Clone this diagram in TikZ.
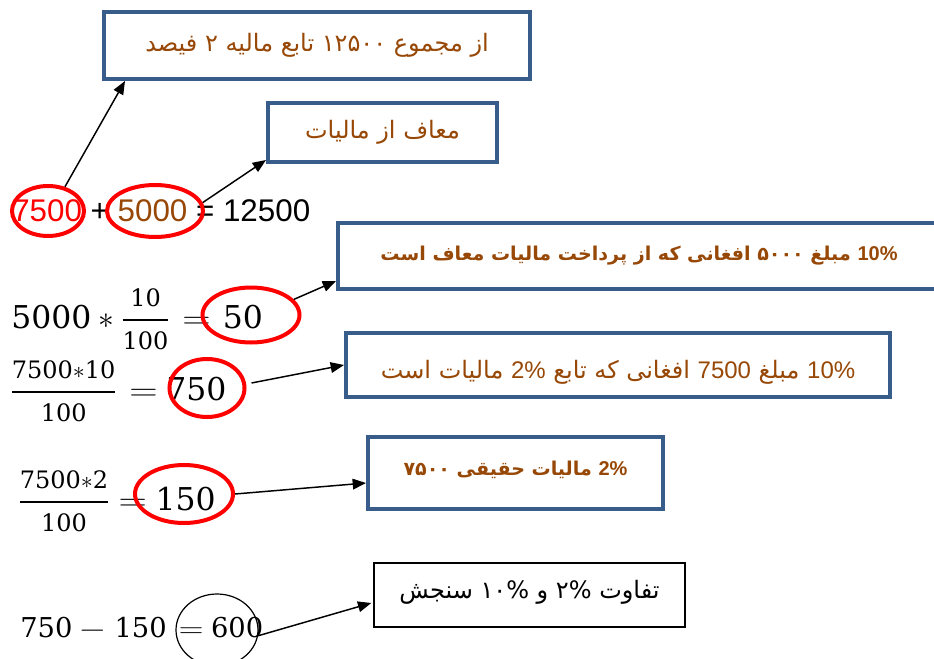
\RequirePackage{fix-cm}
\documentclass[tikz,border=0pt]{standalone}
\usepackage{fontspec}
\usepackage{amsmath}
\setmathrm{DejaVu Serif}
\usetikzlibrary{shapes.geometric,arrows.meta,calc}
\TeXXeTstate=1
\newfontfamily\arabicfont[Script=Arabic]{DejaVu Sans}
\newfontfamily\latinsans{Liberation Sans}
\newfontfamily\mathdigits{DejaVu Serif}
\definecolor{boxblue}{HTML}{385D8A}
\definecolor{txtbrown}{HTML}{984806}
\definecolor{ovalred}{HTML}{FF0000}
\newcommand{\fnum}[2]{\text{\mathdigits\fontsize{#1}{#1}\selectfont #2}}
\newcommand{\weq}{\mathrel{\scalebox{1.25}[1]{$=$}}}
\newcommand{\wminus}{\mathbin{\scalebox{1.3}[1]{$-$}}}
\tikzset{
  bluebox/.style={draw=boxblue, line width=3pt, fill=white, rectangle, inner sep=0pt,
    text=txtbrown, font=\arabicfont\fontsize{18}{21}\selectfont},
  boldtext/.style={font=\arabicfont\bfseries\fontsize{14.3}{17}\selectfont},
  blackbox/.style={draw=black, line width=1.1pt, fill=white, rectangle, inner sep=0pt,
    text=black, font=\arabicfont\fontsize{18}{21}\selectfont},
  redoval/.style={draw=ovalred, ellipse, line width=3pt, inner sep=0pt},
  blackoval/.style={draw=black, ellipse, line width=0.9pt, inner sep=0pt},
  arr/.style={-{Triangle[length=10pt,width=8pt]}, line width=1.1pt, black},
  eqsans/.style={font=\latinsans\fontsize{23.5}{28}\selectfont, anchor=base west, inner sep=0pt},
  eqmath/.style={font=\mathdigits\fontsize{23.6}{28}\selectfont, anchor=base west, inner sep=0pt},
}
\begin{document}
\begin{tikzpicture}[x=0.75pt,y=-0.75pt]
\useasboundingbox[fill=white] (0,0) rectangle (934,659);

% boxes
\node[bluebox, minimum width=319.5pt, minimum height=50.25pt] (b1) at (317,45.5)
  {\beginR از مجموع \beginL ۱۲۵۰۰\endL{} تابع مالیه \beginL ۲\endL{} فیصد\endR};
\node[bluebox, minimum width=171.75pt, minimum height=44.25pt] (b2) at (382.5,132.5)
  {\beginR معاف از مالیات\endR};
\node[bluebox, boldtext, minimum width=451.5pt, minimum height=49.5pt] (b3) at (639,256)
  {\beginR \beginL{\latinsans\bfseries\fontsize{15}{17}\selectfont 10\%}\endL{} مبلغ \beginL ۵۰۰۰\endL{} افغانی که از پرداخت مالیات معاف است\endR};
\node[bluebox, minimum width=408pt, minimum height=48pt, text height=23pt, text depth=2.5pt] (b4) at (618,365)
  {\beginR \beginL{\latinsans 10\%}\endL{} مبلغ \beginL{\latinsans 7500}\endL{} افغانی که تابع \beginL{\latinsans 2\%}\endL{} مالیات است\endR};
\node[bluebox, boldtext, minimum width=221.25pt, minimum height=54pt, text height=12pt, text depth=8.5pt] (b5) at (515.5,473)
  {\beginR \beginL{\latinsans\bfseries\fontsize{15}{17}\selectfont 2\%}\endL{} مالیات حقیقی \beginL ۷۵۰۰\endL\endR};
\node[blackbox, minimum width=233.25pt, minimum height=48pt, text height=14pt, text depth=8.5pt] (b6) at (529.5,595)
  {\beginR تفاوت \beginL ۲\%\endL{} و \beginL ۱۰\%\endL{} سنجش\endR};

% equations
\node[eqsans] (eq1) at (12,222) {\textcolor{ovalred}{7500} + \textcolor{txtbrown}{5000} = 12500};
\node[eqmath] (eq2) at (11,328)
  {$\mathrm{5000}\ast\dfrac{\fnum{18}{10}}{\fnum{18}{100}}\mskip2mu\weq\mskip2mu\mathrm{50}$};
\node[eqmath] (eq3) at (10,400)
  {$\dfrac{\fnum{18}{7500$\ast$10}}{\fnum{18}{100}}\mskip2mu\weq\mathrm{750}$};
\node[eqmath] (eq4) at (18,510)
  {$\dfrac{\fnum{18}{7500$\ast$2}}{\fnum{18}{100}}\weq\mathrm{150}$};
\node[eqmath, font=\mathdigits\fontsize{20.5}{24}\selectfont] (eq5) at (20,637)
  {$\mathrm{750}\wminus\mskip1.5mu\mathrm{150}\mskip3mu\weq\mathrm{600}$};

% ovals
\node[redoval, minimum width=54pt, minimum height=37.5pt] (e1) at (48,211) {};
\node[redoval, minimum width=72pt, minimum height=39pt] (e2) at (155,211) {};
\node[redoval, minimum width=72.75pt, minimum height=41.25pt] (e3) at (251,315) {};
\node[redoval, minimum width=56.25pt, minimum height=43.5pt] (e4) at (207,388) {};
\node[redoval, minimum width=73.5pt, minimum height=43.5pt] (e5) at (184,494) {};
\node[blackoval, minimum width=61.5pt, minimum height=54pt] (e6) at (217,630) {};

% arrows
\draw[arr] (e1.55) -- ($(b1.south west)+(23,0)$);
\draw[arr] (e2.10) -- ($(b2.south west)+(0,-4)$);
\draw[arr] (e3.20) -- ($(b3.south west)+(0,-10)$);
\draw[arr] ($(e4.east)+(5,-5)$) -- (b4.west);
\draw[arr] (e5.east) -- ($(b5.west)+(0,10)$);
\draw[arr] (e6.-8) -- ($(b6.west)+(-2,8)$);
\end{tikzpicture}
\end{document}
